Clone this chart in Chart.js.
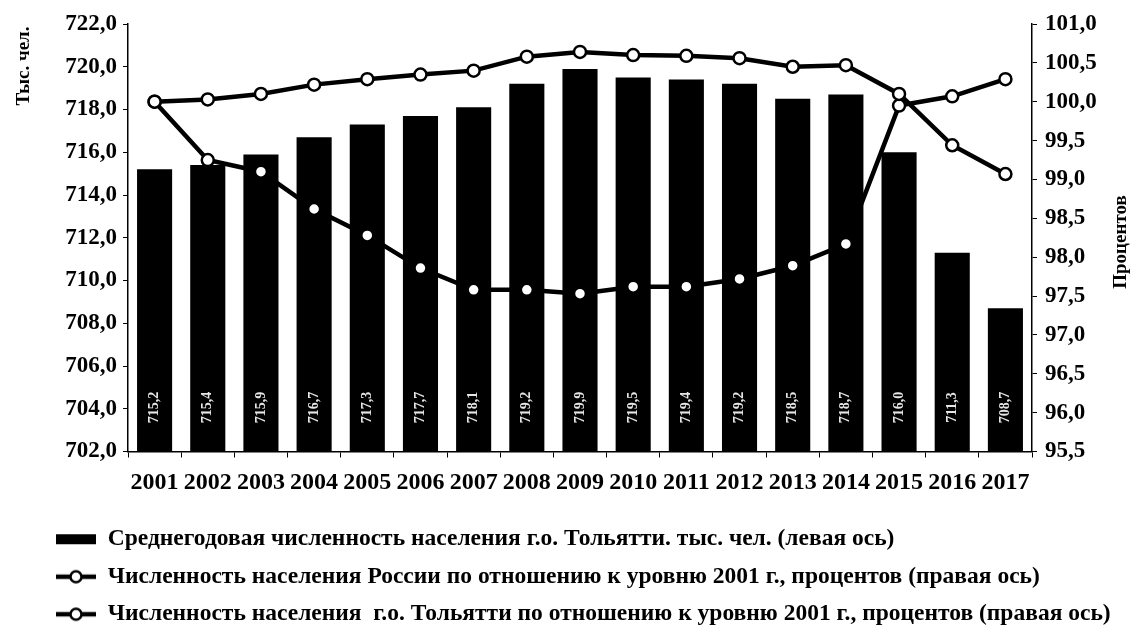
<!DOCTYPE html>
<html>
<head>
<meta charset="utf-8">
<script src="https://cdn.jsdelivr.net/npm/chart.js@4/dist/chart.umd.min.js"></script>
<style>
  body { margin: 0; background: #fff; }
  #wrap { width: 1136px; height: 627px; }
</style>
</head>
<body>
<div id="wrap"><canvas id="chart"></canvas></div>
<script>
const years = ['2001', '2002', '2003', '2004', '2005', '2006', '2007', '2008', '2009',
               '2010', '2011', '2012', '2013', '2014', '2015', '2016', '2017'];

// среднегодовая численность, тыс. чел. (левая ось)
const tltPopulation = [715.2, 715.4, 715.9, 716.7, 717.3, 717.7, 718.1, 719.2, 719.9,
                       719.5, 719.4, 719.2, 718.5, 718.7, 716.0, 711.3, 708.7];

// проценты к 2001 г. (правая ось)
const russiaPct = [100.0, 99.25, 99.10, 98.62, 98.28, 97.86, 97.58, 97.58, 97.53,
                   97.62, 97.62, 97.72, 97.89, 98.17, 99.95, 100.07, 100.29];
const tltPct = [100.0, 100.03, 100.10, 100.22, 100.29, 100.35, 100.40, 100.58, 100.64,
                100.60, 100.59, 100.56, 100.45, 100.47, 100.10, 99.44, 99.07];

const seriesNames = [
    'Среднегодовая численность населения г.о. Тольятти. тыс. чел. (левая ось)',
    'Численность населения России по отношению к уровню 2001 г., процентов (правая ось)',
    'Численность населения  г.о. Тольятти по отношению к уровню 2001 г., процентов (правая ось)'
];

const leftTicks = { min: 702, max: 722, step: 2 };
const rightTicks = { min: 95.5, max: 101, step: 0.5 };

const FONT = '"Liberation Serif", "Times New Roman", serif';
const comma = v => Number(v).toFixed(1).replace('.', ',');

// legend swatches
function swatch(kind) {
    const c = document.createElement('canvas');
    c.width = 40; c.height = 16;
    const g = c.getContext('2d');
    if (kind === 'bar') {
        g.fillStyle = '#000';
        g.fillRect(0, 3, 40, 10);
    } else {
        g.strokeStyle = '#000';
        g.lineWidth = 4.5;
        g.beginPath(); g.moveTo(0, 8); g.lineTo(40, 8); g.stroke();
        g.fillStyle = '#fff';
        g.lineWidth = 2.5;
        g.beginPath(); g.arc(20, 8, 5.5, 0, Math.PI * 2); g.fill(); g.stroke();
    }
    return c;
}

const extras = {
    id: 'extras',
    afterDatasetsDraw(chart) {
        const ctx = chart.ctx;
        const meta = chart.getDatasetMeta(0);
        ctx.save();
        ctx.fillStyle = '#e6e6e6';
        ctx.font = 'bold 14px ' + FONT;
        ctx.textAlign = 'center';
        ctx.textBaseline = 'middle';
        meta.data.forEach((bar, i) => {
            ctx.save();
            ctx.translate(bar.x, chart.chartArea.bottom - 44);
            ctx.rotate(-Math.PI / 2);
            ctx.fillText(comma(tltPopulation[i]), 0, 0);
            ctx.restore();
        });
        ctx.restore();
    },
    afterDraw(chart) {
        const ctx = chart.ctx;
        ctx.save();
        ctx.fillStyle = '#000';
        ctx.font = 'bold 19px ' + FONT;
        ctx.textAlign = 'center';
        ctx.textBaseline = 'middle';
        ctx.translate(24, 66);
        ctx.rotate(-Math.PI / 2);
        ctx.fillText('Тыс. чел.', 0, 0);
        ctx.restore();
        ctx.save();
        ctx.fillStyle = '#000';
        ctx.font = 'bold 19px ' + FONT;
        ctx.textAlign = 'center';
        ctx.textBaseline = 'middle';
        ctx.translate(1121, 242);
        ctx.rotate(-Math.PI / 2);
        ctx.fillText('Процентов', 0, 0);
        ctx.restore();
    }
};

const axisGrid = { display: true, drawOnChartArea: false, color: '#000', tickLength: 5, lineWidth: 1 };
const tickFont = { family: FONT, size: 23, weight: 'bold' };

new Chart(document.getElementById('chart').getContext('2d'), {
    type: 'bar',
    data: {
        labels: years,
        datasets: [
            {
                label: seriesNames[0],
                data: tltPopulation,
                backgroundColor: '#000',
                barPercentage: 0.66,
                categoryPercentage: 1,
                yAxisID: 'y',
                order: 3
            },
            {
                type: 'line',
                label: seriesNames[1],
                data: russiaPct,
                borderColor: '#000',
                borderWidth: 4.5,
                backgroundColor: '#fff',
                pointBackgroundColor: '#fff',
                pointBorderColor: '#000',
                pointBorderWidth: 2.5,
                pointRadius: 6,
                tension: 0,
                yAxisID: 'y1',
                order: 2
            },
            {
                type: 'line',
                label: seriesNames[2],
                data: tltPct,
                borderColor: '#000',
                borderWidth: 4.5,
                backgroundColor: '#fff',
                pointBackgroundColor: '#fff',
                pointBorderColor: '#000',
                pointBorderWidth: 2.5,
                pointRadius: 6,
                tension: 0,
                yAxisID: 'y1',
                order: 1
            }
        ]
    },
    options: {
        responsive: true,
        maintainAspectRatio: false,
        animation: false,
        layout: { padding: { left: 42, right: 0, top: 24, bottom: -9 } },
        scales: {
            x: {
                grid: { ...axisGrid, offset: true, tickLength: 6 },
                border: { color: '#000', width: 1.5 },
                ticks: { font: { ...tickFont, size: 24 }, color: '#000', maxRotation: 0, autoSkip: false, padding: 11 },
                afterFit: s => { s.height = 62; }
            },
            y: {
                position: 'left',
                min: leftTicks.min,
                max: leftTicks.max,
                grid: axisGrid,
                border: { color: '#000', width: 1.5 },
                ticks: { stepSize: leftTicks.step, font: tickFont, color: '#000', padding: 6, callback: v => comma(v) },
                afterFit: s => { s.width = 86; }
            },
            y1: {
                position: 'right',
                min: rightTicks.min,
                max: rightTicks.max,
                grid: axisGrid,
                border: { color: '#000', width: 1.5 },
                ticks: { stepSize: rightTicks.step, font: tickFont, color: '#000', padding: 8, callback: v => comma(v) },
                afterFit: s => { s.width = 104; }
            }
        },
        plugins: {
            title: { display: false },
            tooltip: { enabled: false },
            legend: {
                position: 'bottom',
                align: 'start',
                labels: {
                    usePointStyle: true,
                    pointStyleWidth: 40,
                    padding: 14,
                    color: '#000',
                    font: { family: FONT, size: 23.5, weight: 'bold' },
                    generateLabels: chart => chart.data.datasets.map((ds, i) => ({
                        text: ds.label,
                        fillStyle: '#000',
                        strokeStyle: '#000',
                        lineWidth: 0,
                        pointStyle: swatch(i === 0 ? 'bar' : 'line'),
                        hidden: false,
                        datasetIndex: i
                    }))
                }
            }
        }
    },
    plugins: [extras]
});
</script>
</body>
</html>
